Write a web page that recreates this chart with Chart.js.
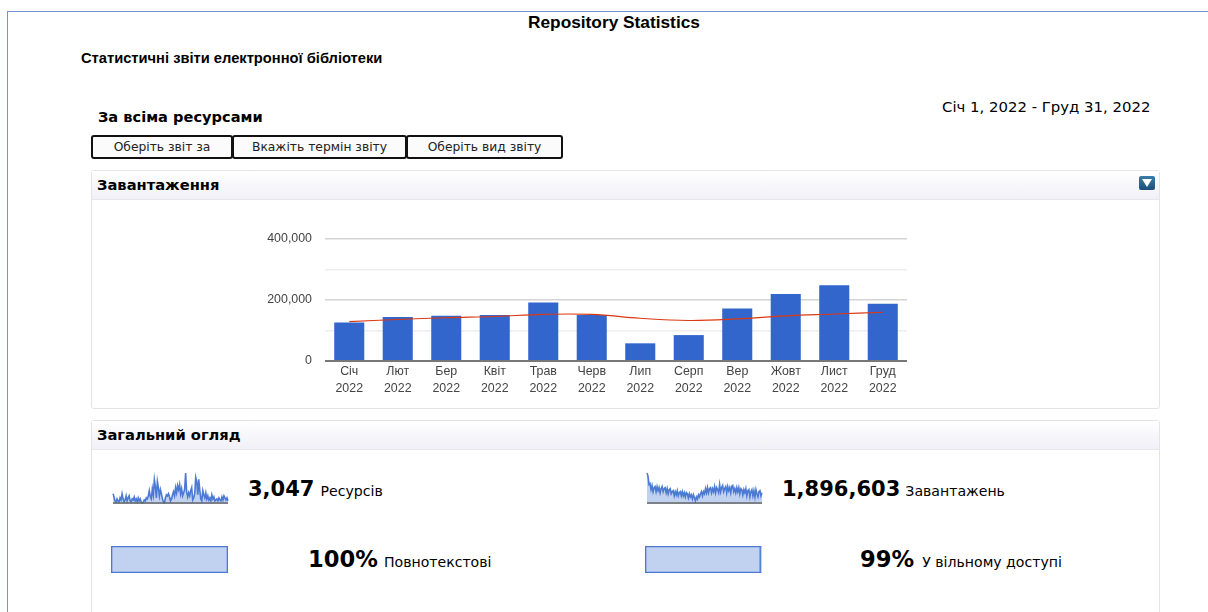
<!DOCTYPE html>
<html>
<head>
<meta charset="utf-8">
<title>Repository Statistics</title>
<script src="https://cdn.jsdelivr.net/npm/chart.js@4/dist/chart.umd.min.js"></script>
<style>
html, body { margin: 0; padding: 0; background: #fff; overflow: hidden; }
body { width: 1208px; height: 612px; position: relative; font-family: "DejaVu Sans", sans-serif; color: #000; }
.abs { position: absolute; white-space: nowrap; }
.frame { position: absolute; left: 7px; top: 11px; width: 1201px; height: 601px; border-left: 1px solid #7393d2; border-top: 1px solid #7393d2; }
.btn { position: absolute; top: 135px; height: 20px; border: 2px solid #111; border-radius: 3px; background: #fbfbfb; font-size: 12.3px; line-height: 20px; text-align: center; color: #222; }
.panel { position: absolute; left: 91px; width: 1067px; border: 1px solid #e4e4e4; border-radius: 3px; }
.panel .head { height: 28px; border-bottom: 1px solid #e6e6ee; background: linear-gradient(#fff, #f0f0f7); font-weight: bold; font-size: 14.7px; line-height: 28px; padding-left: 5px; }
.icon { position: absolute; left: 1139px; top: 176px; width: 16px; height: 14px; border-radius: 2px; background: linear-gradient(#3a7cab, #1d4f7a); }
.icon i { position: absolute; left: 3px; top: 3px; border-left: 5px solid transparent; border-right: 5px solid transparent; border-top: 8px solid #fff; }
.num { font-weight: bold; font-size: 21px; }
.pct { font-weight: bold; font-size: 22.6px; }
.lbl { font-size: 14.1px; margin-left: 1px; }
canvas { position: absolute; display: block; }
</style>
</head>
<body>
<div class="frame"></div>
<div class="abs" style="left:528px;top:12px;font:bold 17.3px 'Liberation Sans',Arial,sans-serif;">Repository Statistics</div>
<div class="abs" style="left:81px;top:50px;font:bold 14.7px 'Liberation Sans',Arial,sans-serif;">Статистичні звіти електронної бібліотеки</div>
<div class="abs" style="left:98px;top:108px;font-weight:bold;font-size:14.6px;">За всіма ресурсами</div>
<div class="abs" style="left:942px;top:98px;font-size:14.9px;">Січ 1, 2022 - Груд 31, 2022</div>
<div class="btn" style="left:91px;width:138px;">Оберіть звіт за</div>
<div class="btn" style="left:232px;width:171px;">Вкажіть термін звіту</div>
<div class="btn" style="left:406px;width:153px;">Оберіть вид звіту</div>

<div class="panel" style="top:170px;height:237px;"><div class="head">Завантаження</div></div>
<div class="icon"><i></i></div>
<div class="panel" style="top:420px;height:200px;"><div class="head">Загальний огляд</div></div>

<canvas id="mainChart" width="680" height="175" style="left:250px;top:225px;"></canvas>
<canvas id="sparkItems" width="117" height="36" style="left:112px;top:468px;"></canvas>
<canvas id="sparkDownloads" width="117" height="36" style="left:646px;top:468px;"></canvas>
<canvas id="barFulltext" width="119" height="29" style="left:110px;top:545px;"></canvas>
<canvas id="barOpen" width="119" height="29" style="left:644px;top:545px;"></canvas>

<div class="abs" style="left:248px;top:477px;"><span class="num">3,047</span> <span class="lbl">Ресурсів</span></div>
<div class="abs" style="left:782px;top:477px;"><span class="num">1,896,603</span> <span class="lbl" style="margin-left:0">Завантажень</span></div>
<div class="abs" style="left:308px;top:546px;"><span class="pct">100%</span> <span class="lbl">Повнотекстові</span></div>
<div class="abs" style="left:860px;top:546px;"><span class="pct">99%</span> <span class="lbl" style="margin-left:3px">У вільному доступі</span></div>

<script>
const months = ['Січ', 'Лют', 'Бер', 'Квіт', 'Трав', 'Черв', 'Лип', 'Серп', 'Вер', 'Жовт', 'Лист', 'Груд'];
const year = '2022';
const downloads = [126000, 144000, 148000, 151000, 192000, 151000, 58000, 85000, 172000, 220000, 248000, 188000];
const trend = [129000, 136000, 142000, 146000, 153000, 153000, 140000, 133000, 138000, 148000, 154000, 160000];
const labelledTicks = [0, 200000, 400000];

// sparklines
const sparkItemsValues = [
    10, 7, 3, 2, 5, 3, 2, 6, 4, 10,
    5, 2, 4, 8, 3, 6, 8, 3, 2, 5,
    4, 7, 3, 5, 2, 6, 3, 5, 2, 1,
    2, 4, 3, 6, 5, 8, 13, 7, 5, 15,
    9, 24, 17, 6, 22, 16, 8, 14, 10, 5,
    2, 1, 6, 9, 8, 10, 7, 3, 5, 9,
    12, 8, 16, 11, 18, 14, 19, 10, 15, 8,
    11, 14, 30, 12, 7, 11, 8, 13, 16, 4,
    6, 10, 26, 22, 9, 24, 14, 5, 3, 13,
    9, 6, 11, 5, 8, 4, 6, 3, 9, 5,
    7, 3, 4, 5, 3, 6, 4, 3, 7, 4,
    8, 6, 4, 6, 3
];
const sparkDownloadsValues = [
    30, 27, 19, 20, 14, 18, 12, 16, 17, 12,
    17, 13, 16, 11, 15, 17, 12, 15, 16, 11,
    15, 10, 14, 15, 10, 12, 13, 8, 12, 9,
    13, 8, 11, 12, 8, 12, 8, 11, 7, 11,
    10, 6, 10, 7, 9, 5, 9, 6, 3, 7,
    5, 9, 7, 10, 12, 8, 12, 10, 15, 11,
    16, 11, 15, 16, 11, 15, 12, 17, 11, 16,
    14, 11, 19, 12, 16, 18, 12, 15, 17, 11,
    17, 13, 16, 11, 17, 18, 12, 15, 11, 16,
    12, 16, 10, 15, 14, 9, 14, 11, 15, 8,
    13, 14, 7, 12, 14, 8, 13, 7, 14, 10,
    7, 12, 13, 8, 11
];
const fulltextPercent = 100;
const openAccessPercent = 99;

const blue = '#3366cc';
const red = '#dc3912';

new Chart(document.getElementById('mainChart'), {
    type: 'bar',
    data: {
        labels: months.map(m => [m, year]),
        datasets: [{
            type: 'line',
            data: trend,
            borderColor: red,
            borderWidth: 1.1,
            pointRadius: 0,
            tension: 0.4,
            order: 1
        }, {
            data: downloads,
            backgroundColor: blue,
            barPercentage: 0.62,
            categoryPercentage: 1,
            order: 2
        }]
    },
    options: {
        responsive: false,
        animation: false,
        layout: { autoPadding: false, padding: { top: 14, right: 23, left: 0, bottom: 0 } },
        plugins: { legend: { display: false }, tooltip: { enabled: false } },
        scales: {
            x: {
                grid: { display: false, drawTicks: false },
                border: { display: false },
                ticks: { color: '#444', font: { family: 'Arial, "Liberation Sans"', size: 12.4, lineHeight: 1.3 }, maxRotation: 0, autoSkip: false, padding: 3 },
                afterFit: scale => { scale.height = 39; }
            },
            y: {
                min: 0,
                max: 400000,
                grid: {
                    // tick marks stay invisible, they only push the labels away from the plot
                    drawTicks: true,
                    tickLength: 13,
                    tickColor: 'rgba(0,0,0,0)',
                    color: c => c.tick.value === 0 ? '#777' : (labelledTicks.includes(c.tick.value) ? '#d4d4d4' : '#eeeeee'),
                    lineWidth: c => c.tick.value === 0 ? 2 : 1.5
                },
                border: { display: false },
                ticks: {
                    stepSize: 100000,
                    color: '#444',
                    padding: 0,
                    font: { family: 'Arial, "Liberation Sans"', size: 12.4 },
                    callback: v => labelledTicks.includes(v) ? v.toLocaleString('en-US') : ''
                },
                afterFit: scale => { scale.width = 75; }
            }
        }
    }
});

function spark(id, values, max) {
    new Chart(document.getElementById(id), {
        type: 'line',
        data: {
            labels: values.map((v, i) => i),
            datasets: [{
                data: values,
                borderColor: 'rgba(51,102,204,0.85)',
                borderWidth: 1.6,
                backgroundColor: 'rgba(51,102,204,0.3)',
                fill: 'origin',
                pointRadius: 0,
                tension: 0
            }]
        },
        options: {
            responsive: false,
            animation: false,
            layout: { padding: { left: 1, right: 1, top: 1, bottom: 0 } },
            plugins: { legend: { display: false }, tooltip: { enabled: false } },
            scales: {
                x: { display: false },
                y: { display: false, min: 0, max: max }
            }
        },
        plugins: [{
            // dark baseline under the area
            afterDatasetsDraw(chart) {
                const { ctx, chartArea, scales } = chart;
                ctx.save();
                ctx.strokeStyle = '#666';
                ctx.lineWidth = 1.5;
                ctx.beginPath();
                ctx.moveTo(chartArea.left, scales.y.getPixelForValue(0) - 1);
                ctx.lineTo(chartArea.right, scales.y.getPixelForValue(0) - 1);
                ctx.stroke();
                ctx.restore();
            }
        }]
    });
}
spark('sparkItems', sparkItemsValues, 34);
spark('sparkDownloads', sparkDownloadsValues, 34);

function percentBar(id, percent) {
    new Chart(document.getElementById(id), {
        type: 'bar',
        data: {
            labels: [''],
            datasets: [{
                data: [percent],
                backgroundColor: 'rgba(51,102,204,0.3)',
                borderColor: 'rgba(51,102,204,0.8)',
                borderWidth: 1,
                borderSkipped: false,
                barPercentage: 1,
                categoryPercentage: 1,
                order: 1
            }, {
                data: [100],
                backgroundColor: '#fff',
                borderColor: 'rgba(51,102,204,0.4)',
                borderWidth: 1,
                borderSkipped: false,
                barPercentage: 1,
                categoryPercentage: 1,
                order: 2
            }]
        },
        options: {
            indexAxis: 'y',
            responsive: false,
            animation: false,
            layout: { padding: 1 },
            plugins: { legend: { display: false }, tooltip: { enabled: false } },
            scales: {
                x: { display: false, min: 0, max: 100 },
                y: { display: false, stacked: true }
            }
        }
    });
}
percentBar('barFulltext', fulltextPercent);
percentBar('barOpen', openAccessPercent);
</script>
</body>
</html>
